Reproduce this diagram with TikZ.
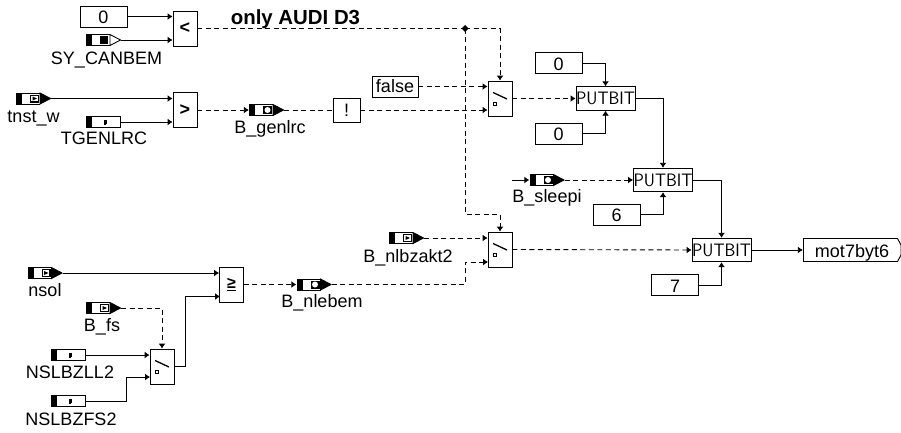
\documentclass[tikz,border=0pt]{standalone}
\usepackage{fontspec}
\setmainfont{Liberation Sans}
\usetikzlibrary{arrows.meta}
\newcommand{\iconframe}[1]{%
  \draw[line width=0.9pt,fill=#1] (6.5,-5.5) -- (17,0) -- (6.5,5.5) -- cycle;
  \draw[line width=0.9pt] (6.5,-5.5) -- (-17,-5.5) -- (-17,5.5) -- (6.5,5.5);
  \fill (-17.5,-6) rectangle (-11.5,6);}
\tikzset{
  every node/.style={font=\fontsize{18}{20}\selectfont},
  txt/.style={anchor=base,inner sep=0pt},
  wire/.style={line width=0.9pt,-{Latex[length=5pt,width=7pt]}},
  plainwire/.style={line width=0.9pt},
  dashwire/.style={wire,dash pattern=on 5pt off 3.5pt},
  dashplain/.style={plainwire,dash pattern=on 5pt off 3.5pt},
  block/.style={draw,fill=white,line width=0.9pt,inner sep=0pt},
  constbox/.style={block,minimum width=47pt,minimum height=21pt},
  cmpbox/.style={block,minimum width=24pt,minimum height=35pt,font=\fontsize{18}{20}\selectfont\bfseries},
  putbox/.style={block,minimum width=59pt,minimum height=23.5pt,font=\fontsize{18}{20}\selectfont\sffamily},
  swbox/.style={block,minimum width=24pt,minimum height=35pt,path picture={
    \draw[line width=1.3pt] (-7,-6) -- (7,0.5);
    \draw[line width=0.7pt] (-7,3.5) rectangle (-4,6.5);}},
  paramicon/.style={minimum width=35pt,minimum height=12pt,inner sep=0pt,path picture={
    \draw[line width=0.9pt] (-17,-5.5) rectangle (17,5.5);
    \fill (-17.5,-6) rectangle (-11.5,6);
    \fill (0.5,-2) rectangle (3.5,1.5);
    \fill (0.5,-2) rectangle (2,3);}},
  sysicon/.style={minimum width=35pt,minimum height=12pt,inner sep=0pt,path picture={
    \iconframe{white}
    \fill (-3.5,-4) rectangle (4.5,4);}},
  inicon/.style={minimum width=35pt,minimum height=12pt,inner sep=0pt,path picture={
    \iconframe{black}
    \fill (-3.5,-4) rectangle (5.5,4);
    \fill[white] (-2.3,-2.8) rectangle (4.3,2.8);
    \fill (-1,-2) -- (3.5,0) -- (-1,2) -- cycle;}},
  outicon/.style={minimum width=35pt,minimum height=12pt,inner sep=0pt,path picture={
    \iconframe{black}
    \fill (-3.5,-4) rectangle (5.5,4);
    \fill[white] (1,0) circle (3pt);}},
  msgbox/.style={minimum width=98pt,minimum height=24pt,inner sep=0pt,path picture={
    \draw[line width=0.9pt] (-48.5,-11.5) -- (45.5,-11.5) -- (49,-5) -- (49,5) -- (45.5,11.5) -- (-48.5,11.5) -- cycle;}},
}
\begin{document}
\begin{tikzpicture}[x=1pt,y=-1pt]
\path[use as bounding box,fill=white] (0,0) rectangle (901,432);
% blocks
\node[constbox] (zeroCan) at (103.5,16.5) {};
\node[txt] (zeroCanTxt) at (103.5,23) {0};
\node[sysicon] (SYCANBEM) at (103.5,40) {};
\node[txt] (SYCANBEMTxt) at (106.5,64) {SY\_CANBEM};
\node[cmpbox] (cmpLt) at (185,28.5) {<};
\node[inicon] (tnstw) at (33.5,98.5) {};
\node[txt] (tnstwTxt) at (33.5,122.5) {tnst\_w};
\node[paramicon] (TGENLRC) at (103.5,122) {};
\node[txt] (TGENLRCTxt) at (104,144) {TGENLRC};
\node[cmpbox] (cmpGt) at (185,110) {>};
\node[outicon] (Bgenlrc) at (266.5,110) {};
\node[txt] (BgenlrcTxt) at (270,133) {B\_genlrc};
\node[block,minimum width=27pt,minimum height=24pt] (notBox) at (346.5,110) {!};
\node[block,minimum width=46pt,minimum height=21pt] (falseBox) at (395,86.5) {false};
\node[swbox] (swTop) at (500,98.5) {};
\node[constbox] (zeroA) at (558.5,63) {};
\node[txt] (zeroATxt) at (558.5,70) {0};
\node[constbox] (zeroB) at (558.5,133.5) {};
\node[txt] (zeroBTxt) at (558.5,140.5) {0};
\node[putbox] (putA) at (605.5,98.5) {\scalebox{0.96}[1]{PUTBIT}};
\node[inicon] (nsol) at (45,273) {};
\node[txt] (nsolTxt) at (45,296) {nsol};
\node[inicon] (Bfs) at (103.5,308) {};
\node[txt] (BfsTxt) at (102,331) {B\_fs};
\node[paramicon] (NSLBZLL2) at (68.5,355) {};
\node[txt] (NSLBZLL2Txt) at (70,378) {NSLBZLL2};
\node[paramicon] (NSLBZFS2) at (68.5,401) {};
\node[txt] (NSLBZFS2Txt) at (71,425) {NSLBZFS2};
\node[swbox] (swLow) at (162,366.5) {};
\node[cmpbox,font=\fontsize{16}{18}\selectfont\bfseries] (cmpGe) at (231.5,284.5) {\underline{≥}};
\node[outicon] (Bnlebem) at (314,284.5) {};
\node[txt] (BnlebemTxt) at (322,307) {B\_nlebem};
\node[inicon] (Bnlbzakt) at (406.5,238) {};
\node[txt] (BnlbzaktTxt) at (408,262) {B\_nlbzakt2};
\node[swbox] (swBot) at (500,249.5) {};
\node[outicon] (Bsleepi) at (547,180) {};
\node[txt] (BsleepiTxt) at (547,202) {B\_sleepi};
\node[putbox] (putB) at (663,180) {\scalebox{0.96}[1]{PUTBIT}};
\node[constbox] (sixBox) at (616.5,214.5) {};
\node[txt] (sixTxt) at (616.5,221.5) {6};
\node[putbox] (putC) at (721.5,250) {\scalebox{0.96}[1]{PUTBIT}};
\node[constbox] (sevenBox) at (675,285) {};
\node[txt] (sevenTxt) at (675,292) {7};
\node[msgbox] (mot) at (852,250) {};
\node[txt] (motTxt) at (852,257) {mot7byt6};
\node[txt,font=\fontsize{20.4}{22}\selectfont\bfseries] (onlyTxt) at (295.5,24) {only AUDI D3};
% free ends and bends
\coordinate (junction) at (465,28.5);
\coordinate (stub) at (512,180);
\coordinate (bendFs) at (126,401);
\coordinate (bendLow) at (185,366.5);
\coordinate (bendNleb) at (465,284.5);
\coordinate (bendBot) at (465,214);
\coordinate (swLowIn) at (150,377);
\coordinate (cmpGeIn) at (220,296.5);
\coordinate (swBotIn) at (488,262);
\fill (junction) ++(-3.5,0) -- ++(3.5,-3.5) -- ++(3.5,3.5) -- ++(-3.5,3.5) -- cycle;
% top rows
\draw[wire] (zeroCan.east) -- (cmpLt.west |- zeroCan);
\draw[wire] (SYCANBEM.east) -- (cmpLt.west |- SYCANBEM);
\draw[wire] (tnstw.east) -- (cmpGt.west |- tnstw);
\draw[wire] (TGENLRC.east) -- (cmpGt.west |- TGENLRC);
\draw[dashwire] (cmpGt.east) -- (Bgenlrc.west);
\draw[dashplain] (Bgenlrc.east) -- (notBox.west);
\draw[dashplain] (cmpLt.east) -- (junction);
\draw[dashwire] (junction) -| (swTop.north);
\draw[dashwire] (junction) -- (bendBot) -| (swBot.north);
\draw[dashwire] (falseBox.east) -- (swTop.west |- falseBox.east);
\draw[dashwire] (notBox.east) -- (swTop.west |- notBox.east);
\draw[dashwire] (swTop.east) -- (putA.west);
\draw[wire] (zeroA.east) -| (putA.north);
\draw[wire] (zeroB.east) -| (putA.south);
\draw[wire] (putA.east) -| (putB.north);
\draw[wire] (stub) -- (Bsleepi.west);
\draw[dashwire] (Bsleepi.east) -- (putB.west);
\draw[wire] (sixBox.east) -| (putB.south);
\draw[wire] (putB.east) -| (putC.north);
\draw[wire] (sevenBox.east) -| (putC.south);
\draw[dashwire] (swBot.east) -- (putC.west);
\draw[wire] (putC.east) -- (mot.west);
% lower left
\draw[wire] (nsol.east) -- (cmpGe.west |- nsol);
\draw[dashwire] (Bfs.east) -| (swLow.north);
\draw[wire] (NSLBZLL2.east) -- (swLow.west |- NSLBZLL2);
\draw[wire] (NSLBZFS2.east) -- (bendFs) |- (swLowIn);
\draw[wire] (swLow.east) -- (bendLow) |- (cmpGeIn);
\draw[dashwire] (cmpGe.east) -- (Bnlebem.west);
\draw[dashwire] (Bnlebem.east) -- (bendNleb) |- (swBotIn);
\draw[dashwire] (Bnlbzakt.east) -- (swBot.west |- Bnlbzakt);
\end{tikzpicture}
\end{document}
